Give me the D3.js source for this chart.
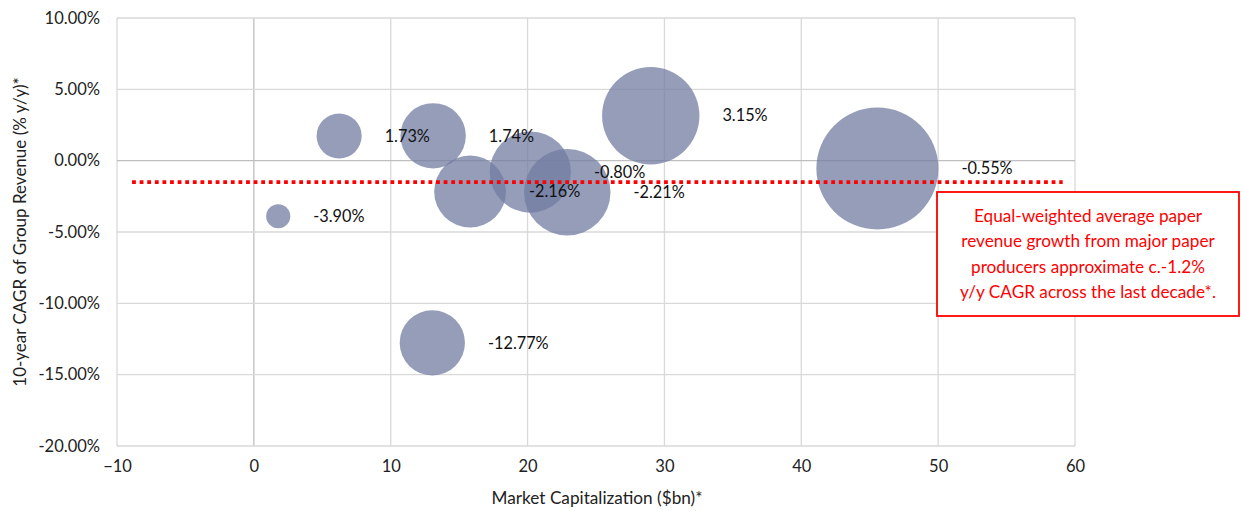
<!DOCTYPE html>
<html>
<head>
<meta charset="utf-8">
<script src="https://cdn.jsdelivr.net/npm/d3@7"></script>
<style>
  html, body { margin: 0; padding: 0; background: #ffffff; }
  svg { display: block; font-family: Lato, "Open Sans", sans-serif; }
</style>
</head>
<body>
<svg id="chart" width="1243" height="511"></svg>
<script>
// ---- data ----
const marketCap = [1.78, 6.23, 13.10, 13.04, 15.80, 20.20, 22.90, 29.00, 45.56];   // $bn (x)
const revenueCagr = [-3.90, 1.73, 1.74, -12.77, -2.16, -0.80, -2.21, 3.15, -0.55]; // % y/y (y)
const bubbleSize = [1.78, 6.23, 13.10, 13.04, 15.80, 20.20, 22.90, 29.00, 45.56];  // bubble size = market cap
const xTicks = [-10, 0, 10, 20, 30, 40, 50, 60];
const yTicks = [10, 5, 0, -5, -10, -15, -20];
const averageGrowth = -1.5;
const averageLineSpan = [-8.9, 59.1];
const noteLines = [
  "Equal-weighted average paper",
  "revenue growth from major paper",
  "producers approximate c.-1.2%",
  "y/y CAGR across the last decade*."
];
const xTitle = "Market Capitalization ($bn)*";
const yTitle = "10-year CAGR of Group Revenue (% y/y)*";

// ---- layout ----
const plot = { left: 117, right: 1075, top: 18, bottom: 446 };
const svg = d3.select("#chart");

const x = d3.scaleLinear().domain([-10, 60]).range([plot.left, plot.right]);
const y = d3.scaleLinear().domain([-20, 10]).range([plot.bottom, plot.top]);
const r = d3.scaleSqrt().domain([0, d3.max(bubbleSize)]).range([0, 61]);

const points = marketCap.map((m, i) => ({ x: m, y: revenueCagr[i], s: bubbleSize[i] }));

// gridlines
const grid = svg.append("g");
grid.selectAll("line.v").data(xTicks).join("line")
  .attr("x1", d => x(d)).attr("x2", d => x(d))
  .attr("y1", plot.top).attr("y2", plot.bottom)
  .attr("stroke", d => d === 0 ? "#bfbfbf" : "#d9d9d9").attr("stroke-width", 1.3);
grid.selectAll("line.h").data(yTicks).join("line")
  .attr("x1", plot.left).attr("x2", plot.right)
  .attr("y1", d => y(d)).attr("y2", d => y(d))
  .attr("stroke", d => d === 0 ? "#bfbfbf" : "#d9d9d9").attr("stroke-width", 1.3);

// bubbles
svg.append("g").selectAll("circle").data(points).join("circle")
  .attr("cx", d => x(d.x)).attr("cy", d => y(d.y)).attr("r", d => r(d.s))
  .attr("fill", "rgb(114,124,162)").attr("fill-opacity", 0.75);

// average line
svg.append("line")
  .attr("x1", x(averageLineSpan[0])).attr("x2", x(averageLineSpan[1]))
  .attr("y1", y(averageGrowth)).attr("y2", y(averageGrowth))
  .attr("stroke", "#ff0000").attr("stroke-width", 3.8)
  .attr("stroke-dasharray", "3.8 3.8");

// data labels
svg.append("g").selectAll("text").data(points).join("text")
  .attr("x", d => x(d.x) + r(d.s) + 23)
  .attr("y", d => y(d.y))
  .attr("dy", "0.35em")
  .attr("font-size", 16.3).attr("fill", "#111")
  .text(d => d.y.toFixed(2) + "%");

// axes tick labels
const yAxis = d3.axisLeft(y).tickValues(yTicks).tickSize(0).tickPadding(17)
  .tickFormat(d => d.toFixed(2) + "%");
const gy = svg.append("g").attr("transform", `translate(${plot.left},0)`).call(yAxis);
gy.select(".domain").remove();
gy.selectAll("text").attr("font-size", 16.5).attr("fill", "#222").attr("font-family", "Lato, sans-serif");

const xAxis = d3.axisBottom(x).tickValues(xTicks).tickSize(0).tickPadding(14)
  .tickFormat(d3.format("d"));
const gx = svg.append("g").attr("transform", `translate(0,${plot.bottom})`).call(xAxis);
gx.select(".domain").remove();
gx.selectAll("text").attr("font-size", 16.5).attr("fill", "#222").attr("font-family", "Lato, sans-serif");

// axis titles
svg.append("text").attr("x", (plot.left + plot.right) / 2 + 1).attr("y", 504)
  .attr("text-anchor", "middle").attr("font-size", 17.2).attr("fill", "#222")
  .text(xTitle);
svg.append("text")
  .attr("transform", `translate(26,${(plot.top + plot.bottom) / 2}) rotate(-90)`)
  .attr("text-anchor", "middle").attr("font-size", 17).attr("fill", "#222")
  .text(yTitle);

// annotation box
const note = svg.append("g");
note.append("rect").attr("x", 937).attr("y", 192).attr("width", 302).attr("height", 124)
  .attr("fill", "#ffffff").attr("stroke", "#ff0000").attr("stroke-width", 1.8);
note.selectAll("text").data(noteLines).join("text")
  .attr("x", 1088).attr("y", (d, i) => 216 + i * 25.3)
  .attr("dy", "0.35em").attr("text-anchor", "middle")
  .attr("font-size", 17.2).attr("fill", "#ff0000")
  .text(d => d);
</script>
</body>
</html>
